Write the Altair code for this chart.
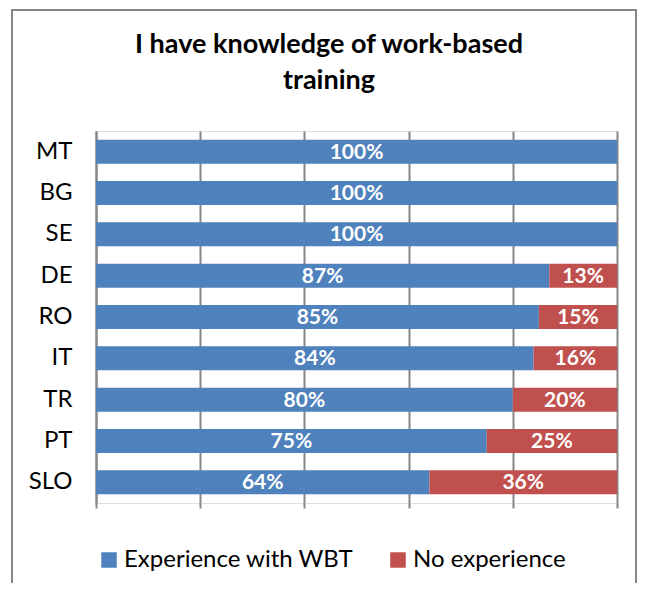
import altair as alt
import pandas as pd

countries = ["MT", "BG", "SE", "DE", "RO", "IT", "TR", "PT", "SLO"]
experience = [100, 100, 100, 87, 85, 84, 80, 75, 64]
no_experience = [0, 0, 0, 13, 15, 16, 20, 25, 36]
series = ["Experience with WBT", "No experience"]
colors = ["#4f81bd", "#c0504d"]
title_lines = ["I have knowledge of work-based", "training"]

rows = []
for c, e, n in zip(countries, experience, no_experience):
    rows.append({"country": c, "series": series[0], "value": e, "ord": 0})
    rows.append({"country": c, "series": series[1], "value": n, "ord": 1})
df = pd.DataFrame(rows)
df = df[df["value"] > 0]
df["label"] = df["value"].astype(int).astype(str) + "%"

FONT = "Lato"

base = alt.Chart(df)

y_enc = alt.Y("country:N", sort=countries, title=None,
              scale=alt.Scale(paddingInner=0.42, paddingOuter=0.21),
              axis=alt.Axis(labelFont=FONT, labelFontSize=24, labelColor="#000",
                            labelPadding=24, ticks=False, domainColor="#868686",
                            domainWidth=2, grid=False))

bars = base.mark_bar().encode(
    x=alt.X("value:Q", stack="zero", title=None,
            scale=alt.Scale(domain=[0, 100], nice=False),
            axis=alt.Axis(values=[0, 20, 40, 60, 80, 100], labels=False,
                          grid=True, gridColor="#868686", gridWidth=2,
                          tickColor="#868686", tickSize=5, tickWidth=2,
                          domain=False)),
    y=y_enc,
    color=alt.Color("series:N", scale=alt.Scale(domain=series, range=colors),
                    legend=alt.Legend(title=None, orient="none", direction="horizontal",
                                      legendX=1, legendY=417, padding=0,
                                      symbolType="square", symbolSize=240,
                                      symbolStrokeWidth=0, symbolOpacity=1,
                                      labelFont=FONT, labelFontSize=24, labelColor="#000",
                                      labelLimit=0, columnPadding=32, labelOffset=3)),
    order=alt.Order("ord:Q"),
)

labels = base.transform_stack(
    stack="value", groupby=["country"], sort=[alt.SortField("ord")], as_=["v0", "v1"]
).transform_calculate(mid="(datum.v0 + datum.v1) / 2").mark_text(
    font=FONT, fontSize=21, fontWeight="bold", color="white", baseline="middle", dy=1
).encode(
    x=alt.X("mid:Q"),
    y=alt.Y("country:N", sort=countries),
    text="label:N",
)

onerow = pd.DataFrame({"a": [0]})
frame = alt.Chart(onerow).mark_rect(
    fill=None, stroke="#868686", strokeWidth=2
).encode(x=alt.value(-84), x2=alt.value(540), y=alt.value(-121), y2=alt.value(600))

title = alt.Chart(onerow).mark_text(
    text=title_lines, font=FONT, fontSize=27, fontWeight="bold", color="#000",
    align="center", baseline="alphabetic", lineHeight=36
).encode(x=alt.value(233), y=alt.value(-78))

chart = alt.layer(bars, labels, frame, title).properties(
    width=521, height=372,
    autosize=alt.AutoSizeParams(type="none"),
    padding={"left": 88, "top": 123, "right": 21, "bottom": 80},
).configure_view(fill="#f2f2f2", stroke=None).configure(background="white")

chart.save("out.html", embed_options={"renderer": "svg", "actions": False})
